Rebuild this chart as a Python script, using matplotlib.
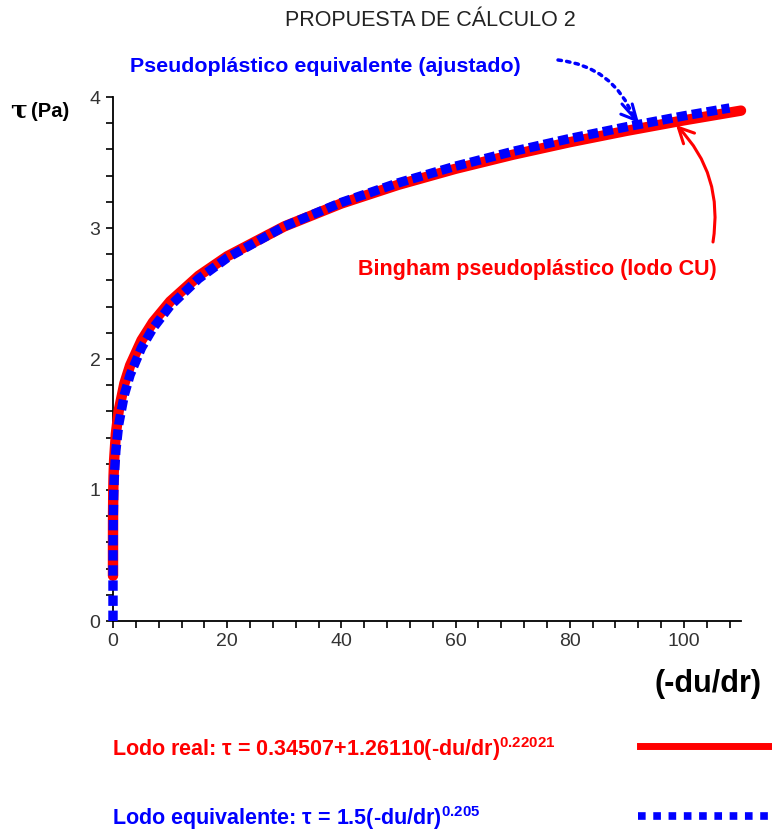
import matplotlib
matplotlib.use("Agg")
import matplotlib.pyplot as plt
from matplotlib.lines import Line2D

plt.rcParams['font.family'] = ['Liberation Sans', 'DejaVu Sans']
plt.rcParams['mathtext.fontset'] = 'custom'
plt.rcParams['mathtext.rm'] = 'Liberation Sans:bold'
plt.rcParams['mathtext.it'] = 'Liberation Sans:bold'
plt.rcParams['mathtext.bf'] = 'Liberation Sans:bold'

# lodo real (Bingham pseudoplastico)
x_real = [0, 0.0001, 0.001, 0.01, 0.05, 0.1, 0.2, 0.5, 1, 2, 3, 5, 7, 10,
          15, 20, 30, 40, 50, 60, 70, 80, 90, 100, 110]
y_real = [0.345, 0.511, 0.621, 0.803, 0.997, 1.105, 1.230, 1.428, 1.606,
          1.814, 1.951, 2.143, 2.281, 2.439, 2.635, 2.784, 3.012, 3.187,
          3.330, 3.452, 3.559, 3.655, 3.742, 3.822, 3.896]

# lodo equivalente (pseudoplastico ajustado)
x_eq = [0, 0.0001, 0.001, 0.01, 0.05, 0.1, 0.2, 0.5, 1, 2, 3, 5, 7, 10,
        15, 20, 30, 40, 50, 60, 70, 80, 90, 100, 108]
y_eq = [0.0, 0.227, 0.364, 0.584, 0.812, 0.936, 1.079, 1.301, 1.500,
        1.729, 1.879, 2.086, 2.235, 2.405, 2.613, 2.772, 3.012, 3.195,
        3.345, 3.472, 3.584, 3.683, 3.773, 3.856, 3.916]

W, H = 772, 832
fig = plt.figure(figsize=(W / 100, H / 100), dpi=100)
ax = fig.add_axes([113 / W, (H - 621) / H, 628 / W, 524 / H])


def fp(px, py):
    # top-left pixel -> figure fraction
    return (px / W, 1 - py / H)


ax.plot(x_real, y_real, color='red', lw=7.5, solid_capstyle='round',
        clip_on=False, zorder=3)
ax.plot(x_eq, y_eq, color='blue', lw=6.8, linestyle=(0, (1.1, 0.5)),
        dash_capstyle='butt', clip_on=False, zorder=4)

ax.set_xlim(0, 110)
ax.set_ylim(0, 4)
ax.set_xticks([0, 20, 40, 60, 80, 100])
ax.set_xticks(range(0, 111, 4), minor=True)
ax.set_yticks([0, 1, 2, 3, 4])
ax.set_yticks([i * 0.2 for i in range(21)], minor=True)
for s in ['top', 'right']:
    ax.spines[s].set_visible(False)
for s in ['left', 'bottom']:
    ax.spines[s].set_linewidth(1.3)
ax.tick_params(which='both', direction='out', length=5, width=1.2,
               labelsize=14, labelcolor='#333333', pad=4)

fig.text(*fp(430, 20), 'PROPUESTA DE CÁLCULO 2', ha='center', va='center',
         fontsize=15.5, color='#222222')
fig.text(*fp(10, 117), 'τ', fontsize=18, fontweight='bold', va='baseline',
         ha='left', family=['DejaVu Serif'])
fig.text(*fp(31, 117), '(Pa)', fontsize=14.5, fontweight='bold',
         va='baseline', ha='left')
fig.text(*fp(708, 684), '(-du/dr)', fontsize=22, fontweight='bold',
         va='center', ha='center')

fig.text(*fp(130, 66), 'Pseudoplástico equivalente (ajustado)', fontsize=15.4,
         fontweight='bold', color='blue', va='center', ha='left')
fig.text(*fp(358, 270), 'Bingham pseudoplástico (lodo CU)', fontsize=15.5,
         fontweight='bold', color='red', va='center', ha='left')

# blue dotted arrow: shaft, then solid head
ax.annotate('', xy=fp(634, 118), xytext=fp(558, 60),
            xycoords='figure fraction', textcoords='figure fraction',
            arrowprops=dict(arrowstyle='-', color='blue', lw=2.5,
                            linestyle=(0, (1, 1.5)), shrinkA=0, shrinkB=0,
                            connectionstyle='arc3,rad=-0.3'))
ax.annotate('', xy=fp(639, 123), xytext=fp(622, 104),
            xycoords='figure fraction', textcoords='figure fraction',
            arrowprops=dict(arrowstyle='->,head_length=1.1,head_width=0.55',
                            color='blue', lw=2.2, shrinkA=0, shrinkB=0))
ax.annotate('', xy=fp(676, 125), xytext=fp(713, 242),
            xycoords='figure fraction', textcoords='figure fraction',
            arrowprops=dict(arrowstyle='->,head_length=1.1,head_width=0.55',
                            color='red', lw=2.2, shrinkA=0, shrinkB=0,
                            connectionstyle='arc3,rad=0.25'))

fig.text(*fp(112, 749), 'Lodo real: τ = 0.34507+1.26110(-du/dr)$^{0.22021}$',
         fontsize=15.5, fontweight='bold', color='red', va='center',
         ha='left')
fig.text(*fp(112, 818), 'Lodo equivalente: τ = 1.5(-du/dr)$^{0.205}$',
         fontsize=15.5, fontweight='bold', color='blue', va='center',
         ha='left')

fig.add_artist(Line2D([640 / W, 770 / W], [1 - 746 / H, 1 - 746 / H],
                      color='red', lw=5))
fig.add_artist(Line2D([638 / W, 772 / W], [1 - 816 / H, 1 - 816 / H],
                      color='blue', lw=5.5, linestyle=(0, (1, 1))))

fig.savefig('out.png', dpi=100)
